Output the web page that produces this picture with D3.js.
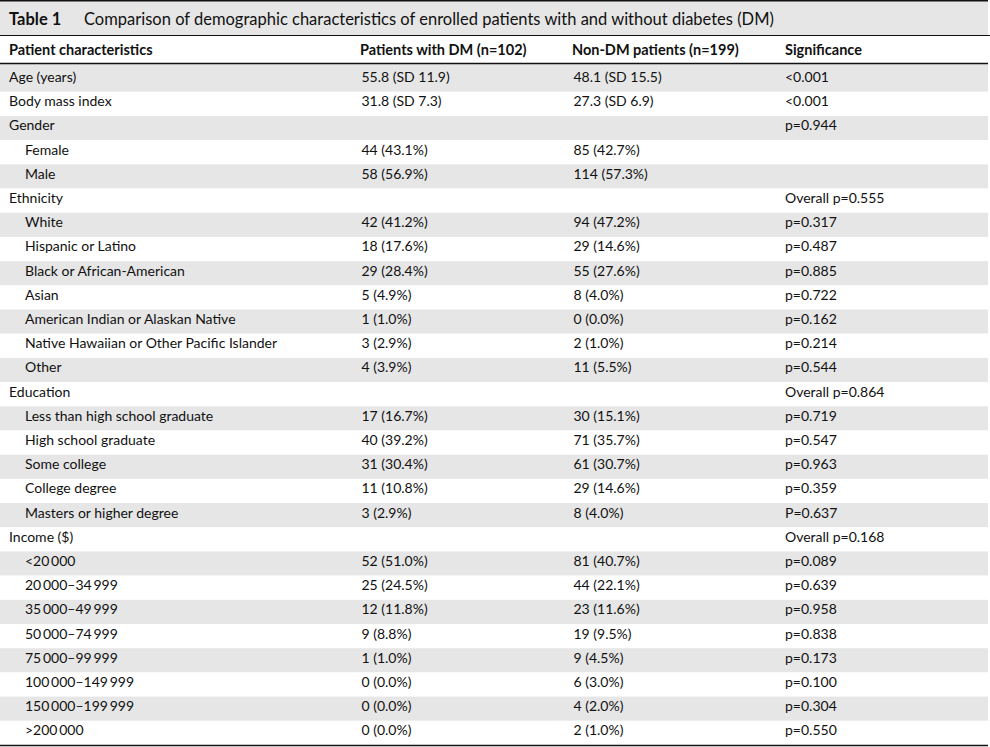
<!DOCTYPE html>
<html>
<head>
<meta charset="utf-8">
<script src="https://cdn.jsdelivr.net/npm/d3@7"></script>
<style>
  body { margin: 0; background: #fff; }
  svg text { font-family: Lato, "Open Sans", sans-serif; font-size: 14px; fill: #111; }
</style>
</head>
<body>
<div id="table-container"></div>
<script>
var titleLabel = "Table 1";
var titleText = "Comparison of demographic characteristics of enrolled patients with and without diabetes (DM)";
var headers = ["Patient characteristics", "Patients with DM (n=102)", "Non-DM patients (n=199)", "Significance"];

var characteristics = ["Age (years)", "Body mass index", "Gender", "Female", "Male", "Ethnicity", "White",
    "Hispanic or Latino", "Black or African-American", "Asian", "American Indian or Alaskan Native",
    "Native Hawaiian or Other Pacific Islander", "Other", "Education", "Less than high school graduate",
    "High school graduate", "Some college", "College degree", "Masters or higher degree", "Income ($)",
    "<20\u2009000", "20\u2009000\u201334\u2009999", "35\u2009000\u201349\u2009999", "50\u2009000\u201374\u2009999",
    "75\u2009000\u201399\u2009999", "100\u2009000\u2013149\u2009999", "150\u2009000\u2013199\u2009999", ">200\u2009000"];
var subRow = [0, 0, 0, 1, 1, 0, 1, 1, 1, 1, 1, 1, 1, 0, 1, 1, 1, 1, 1, 0, 1, 1, 1, 1, 1, 1, 1, 1];

var withDM = ["55.8 (SD 11.9)", "31.8 (SD 7.3)", "", "44 (43.1%)", "58 (56.9%)", "", "42 (41.2%)",
    "18 (17.6%)", "29 (28.4%)", "5 (4.9%)", "1 (1.0%)", "3 (2.9%)", "4 (3.9%)", "", "17 (16.7%)",
    "40 (39.2%)", "31 (30.4%)", "11 (10.8%)", "3 (2.9%)", "", "52 (51.0%)", "25 (24.5%)", "12 (11.8%)",
    "9 (8.8%)", "1 (1.0%)", "0 (0.0%)", "0 (0.0%)", "0 (0.0%)"];
var nonDM = ["48.1 (SD 15.5)", "27.3 (SD 6.9)", "", "85 (42.7%)", "114 (57.3%)", "", "94 (47.2%)",
    "29 (14.6%)", "55 (27.6%)", "8 (4.0%)", "0 (0.0%)", "2 (1.0%)", "11 (5.5%)", "", "30 (15.1%)",
    "71 (35.7%)", "61 (30.7%)", "29 (14.6%)", "8 (4.0%)", "", "81 (40.7%)", "44 (22.1%)", "23 (11.6%)",
    "19 (9.5%)", "9 (4.5%)", "6 (3.0%)", "4 (2.0%)", "2 (1.0%)"];
var significance = ["<0.001", "<0.001", "p=0.944", "", "", "Overall p=0.555", "p=0.317", "p=0.487",
    "p=0.885", "p=0.722", "p=0.162", "p=0.214", "p=0.544", "Overall p=0.864", "p=0.719", "p=0.547",
    "p=0.963", "p=0.359", "P=0.637", "Overall p=0.168", "p=0.089", "p=0.639", "p=0.958", "p=0.838",
    "p=0.173", "p=0.100", "p=0.304", "p=0.550"];

var width = 990, height = 747;
var tableRight = 988;

var svg = d3.select("#table-container")
    .append("svg")
    .attr("width", width)
    .attr("height", height);

var rows = characteristics.map(function (c, i) {
    return {label: c, sub: subRow[i], cells: [withDM[i], nonDM[i], significance[i]]};
});

// row positions
var y = d3.scaleBand().domain(d3.range(rows.length)).range([67.6, 745]);
// column positions
var colX = d3.scaleOrdinal().domain([0, 1, 2, 3]).range([9, 360, 572, 785]);

// title band
svg.append("rect")
   .attr("x", 0).attr("y", 1)
   .attr("width", tableRight).attr("height", 34)
   .style("fill", "#e6e6e6");

svg.append("text")
   .attr("x", 9).attr("y", 25)
   .style("font-weight", "bold")
   .style("font-size", "16.5px")
   .text(titleLabel);

svg.append("text")
   .attr("x", 84).attr("y", 25)
   .style("font-size", "16.5px")
   .text(titleText);

// header
svg.append("g")
   .attr("class", "header")
   .selectAll("text")
   .data(headers)
   .enter()
   .append("text")
   .attr("x", function (d, i) {return colX(i);})
   .attr("y", 55)
   .style("font-weight", "bold")
   .style("font-size", "14.5px")
   .text(function (d) {return d;});

// body rows
var rowG = svg.append("g")
   .attr("class", "body")
   .selectAll("g")
   .data(rows)
   .enter()
   .append("g")
   .attr("transform", function (d, i) {return "translate(0," + y(i) + ")";});

rowG.append("rect")
    .attr("x", 0)
    .attr("y", function (d, i) {return i == 0 ? -3.6 : 0;})
    .attr("width", tableRight)
    .attr("height", function (d, i) {return i == 0 ? y.step() + 3.6 : y.step();})
    .style("fill", function (d, i) {return i % 2 == 0 ? "#e6e6e6" : "#fff";});

rowG.append("text")
    .attr("x", function (d) {return d.sub ? colX(0) + 16 : colX(0);})
    .attr("y", 14.5)
    .text(function (d) {return d.label;});

rowG.selectAll("text.cell")
    .data(function (d) {return d.cells;})
    .enter()
    .append("text")
    .attr("class", "cell")
    .attr("x", function (d, i) {return colX(i + 1) + (i < 2 ? 1.5 : 0);})
    .attr("y", 14.5)
    .text(function (d) {return d;});

// rules
var lineGenerator = d3.line();
var rules = [
    {p: [[0, 0.8], [tableRight, 0.8]], w: 1.6},
    {p: [[0, 35.5], [990, 35.5]], w: 1.2},
    {p: [[0, 63.5], [tableRight, 63.5]], w: 1.4},
    {p: [[0, 745.5], [tableRight, 745.5]], w: 1.6}
];
svg.append("g")
   .attr("class", "rules")
   .selectAll("path")
   .data(rules)
   .enter()
   .append("path")
   .attr("d", function (d) {return lineGenerator(d.p);})
   .style("stroke", "#111")
   .style("stroke-width", function (d) {return d.w;})
   .style("fill", "none");
</script>
</body>
</html>
